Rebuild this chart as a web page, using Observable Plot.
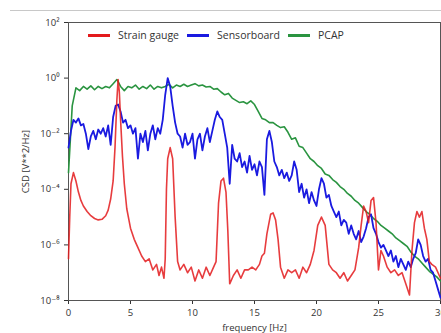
<!DOCTYPE html>
<html>
<head>
<meta charset="utf-8">
<script src="https://cdn.jsdelivr.net/npm/d3@7"></script>
<script src="https://cdn.jsdelivr.net/npm/@observablehq/plot@0.6"></script>
<style>
  html, body { margin: 0; padding: 0; background: white; }
  #wrap { position: relative; width: 441px; height: 333px; overflow: hidden; font-family: "Open Sans", "DejaVu Sans", sans-serif; }
  #topline { position: absolute; left: 10px; right: 0; top: 10px; height: 0; border-top: 1px solid #c8c8c8; }
  #legend { position: absolute; top: 28px; left: 88px; font-size: 10.5px; color: #333; display: flex; align-items: center; white-space: nowrap; }
  #legend .sw { display: inline-block; width: 22px; height: 3px; margin-right: 8px; }
  #legend .it { display: flex; align-items: center; margin-right: 8px; }
</style>
</head>
<body>
<div id="wrap"><div id="topline"></div><div id="legend"></div></div>
<script>
// Series names and colours
const seriesNames = ["Strain gauge", "Sensorboard", "PCAP"];
const seriesColors = ["#e31a1c", "#1a1ae0", "#2a9440"];

// Axis ticks
const xTicks = [0, 5, 10, 15, 20, 25, 30];
const yTicks = [1e-8, 1e-6, 1e-4, 1e-2, 1e0, 1e2];

// PCAP: frequency [Hz] and log10(CSD)
const pcapF = [0,0.3,0.6,0.9,1.2,1.5,1.8,2.1,2.4,2.7,3.0,3.3,3.6,3.9,4.2,4.5,4.8,5.1,5.4,5.7,6.0,6.3,6.6,6.9,7.2,7.5,7.8,8.1,8.4,8.7,9.0,9.3,9.6,9.9,10.2,10.5,10.8,11.1,11.4,11.7,12.0,12.3,12.6,12.9,13.2,13.5,13.8,14.1,14.4,14.7,15.0,15.3,15.6,15.9,16.2,16.5,16.8,17.1,17.4,17.7,18.0,18.3,18.6,18.9,19.2,19.5,19.8,20.1,20.4,20.7,21.0,21.3,21.6,21.9,22.2,22.5,22.8,23.1,23.4,23.7,24.0,24.3,24.6,24.9,25.2,25.5,25.8,26.1,26.4,26.7,27.0,27.3,27.6,27.9,28.2,28.5,28.8,29.1,29.4,29.7,30.0];
const pcapLog = [-3.4,-1.0,-0.35,-0.45,-0.3,-0.4,-0.28,-0.42,-0.3,-0.38,-0.3,-0.35,-0.2,-0.05,-0.3,-0.45,-0.3,-0.35,-0.25,-0.4,-0.3,-0.38,-0.25,-0.4,-0.3,-0.35,-0.3,-0.22,-0.35,-0.25,-0.3,-0.22,-0.3,-0.25,-0.2,-0.28,-0.25,-0.32,-0.3,-0.4,-0.38,-0.5,-0.6,-0.55,-0.72,-0.8,-0.88,-0.85,-0.92,-0.82,-0.95,-1.2,-1.45,-1.5,-1.6,-1.6,-1.7,-1.78,-1.75,-1.95,-2.2,-2.15,-2.45,-2.5,-2.7,-2.9,-3.0,-3.15,-3.25,-3.45,-3.5,-3.65,-3.75,-3.9,-4.0,-4.15,-4.25,-4.4,-4.5,-4.65,-4.8,-4.9,-5.05,-5.15,-5.3,-5.4,-5.5,-5.6,-5.75,-5.85,-5.95,-6.05,-6.25,-6.4,-6.5,-6.65,-6.8,-6.95,-7.05,-7.15,-7.3];

// Sensorboard: frequency [Hz] and log10(CSD)
const sensF = [0,0.2,0.4,0.6,0.8,1.0,1.2,1.4,1.6,1.8,2.0,2.2,2.4,2.6,2.8,3.0,3.2,3.4,3.6,3.8,4.0,4.2,4.4,4.6,4.8,5.0,5.2,5.4,5.6,5.8,6.0,6.2,6.4,6.6,6.8,7.0,7.2,7.4,7.6,7.8,8.0,8.2,8.4,8.6,8.8,9.0,9.2,9.4,9.6,9.8,10.0,10.2,10.4,10.6,10.8,11.0,11.2,11.4,11.6,11.8,12.0,12.2,12.4,12.6,12.8,13.0,13.2,13.4,13.6,13.8,14.0,14.2,14.4,14.6,14.8,15.0,15.2,15.4,15.6,15.8,16.0,16.2,16.4,16.6,16.8,17.0,17.2,17.4,17.6,17.8,18.0,18.2,18.4,18.6,18.8,19.0,19.2,19.4,19.6,19.8,20.0,20.2,20.4,20.6,20.8,21.0,21.2,21.4,21.6,21.8,22.0,22.2,22.4,22.6,22.8,23.0,23.2,23.4,23.6,23.8,24.0,24.2,24.4,24.6,24.8,25.0,25.2,25.4,25.6,25.8,26.0,26.2,26.4,26.6,26.8,27.0,27.2,27.4,27.6,27.8,28.0,28.2,28.4,28.6,28.8,29.0,29.2,29.4,29.6,29.8,30.0];
const sensLog = [-2.5,-1.9,-1.5,-1.6,-1.45,-1.7,-1.65,-2.0,-2.55,-2.1,-1.9,-2.2,-1.85,-2.0,-1.8,-2.1,-1.7,-2.4,-1.4,-1.0,-0.95,-1.2,-1.6,-1.5,-1.8,-1.7,-2.0,-1.8,-2.9,-2.0,-2.3,-1.9,-2.6,-2.0,-1.7,-2.2,-1.8,-2.0,-1.5,-0.6,0.0,-0.3,-1.0,-1.6,-2.0,-2.1,-2.5,-2.0,-2.4,-2.3,-2.0,-2.9,-2.2,-2.0,-2.6,-2.1,-1.8,-2.3,-1.9,-1.5,-1.2,-1.4,-1.5,-2.0,-2.5,-3.8,-2.4,-2.9,-3.0,-2.7,-3.2,-3.0,-3.4,-2.8,-3.3,-3.1,-3.5,-3.0,-3.2,-4.2,-2.2,-1.9,-2.3,-3.0,-3.2,-3.5,-3.3,-3.6,-3.4,-3.7,-3.5,-3.0,-3.3,-4.1,-3.8,-4.3,-4.0,-4.5,-4.1,-4.4,-4.6,-4.0,-3.6,-3.8,-4.3,-4.2,-4.6,-4.8,-5.0,-4.8,-5.3,-5.1,-5.2,-5.6,-5.3,-5.6,-5.8,-5.5,-5.9,-5.7,-5.4,-5.0,-4.9,-5.4,-5.6,-5.9,-6.1,-6.0,-6.2,-6.4,-6.2,-6.6,-6.4,-6.8,-6.5,-6.7,-6.9,-6.6,-6.8,-6.5,-6.3,-5.8,-6.0,-6.4,-6.6,-6.5,-6.9,-7.0,-7.3,-7.6,-7.9];

// Strain gauge: frequency [Hz] and log10(CSD)
const strainF = [0,0.1,0.2,0.4,0.6,0.8,1.0,1.2,1.5,1.8,2.1,2.4,2.7,3.0,3.2,3.4,3.6,3.75,3.9,4.0,4.1,4.2,4.35,4.5,4.7,5.0,5.3,5.6,5.9,6.2,6.5,6.8,7.1,7.3,7.5,7.7,7.8,7.9,8.0,8.2,8.4,8.6,8.8,9.0,9.3,9.6,9.9,10.2,10.5,10.8,11.1,11.4,11.7,11.9,12.1,12.3,12.5,12.7,12.85,13.0,13.3,13.6,13.9,14.2,14.5,14.8,15.1,15.4,15.6,15.8,16.0,16.3,16.5,16.7,16.9,17.1,17.4,17.7,18.0,18.3,18.6,18.9,19.2,19.5,19.8,20.1,20.4,20.7,21.0,21.3,21.6,21.9,22.2,22.5,22.8,23.1,23.4,23.6,23.8,24.0,24.2,24.4,24.6,24.8,25.0,25.2,25.4,25.7,26.0,26.3,26.6,26.9,27.2,27.5,27.7,27.9,28.1,28.3,28.5,28.7,28.9,29.1,29.3,29.6,30.0];
const strainLog = [-6.5,-5.0,-3.8,-3.4,-3.7,-4.1,-4.4,-4.6,-4.8,-4.95,-5.05,-5.1,-5.08,-4.95,-4.75,-4.35,-3.7,-2.5,-0.8,-0.05,-0.5,-1.5,-2.8,-3.8,-4.7,-5.4,-5.8,-6.1,-6.4,-6.6,-6.5,-6.9,-6.7,-7.1,-6.8,-7.2,-6.5,-4.0,-2.9,-2.5,-2.9,-5.0,-6.6,-6.9,-6.7,-7.0,-6.8,-7.3,-6.9,-7.2,-6.8,-7.1,-6.8,-6.6,-4.5,-3.7,-3.6,-4.1,-5.5,-7.4,-7.1,-6.9,-7.2,-6.9,-6.9,-6.8,-6.9,-6.7,-6.4,-6.3,-5.6,-4.9,-4.85,-5.1,-5.8,-6.8,-7.2,-6.9,-7.0,-6.9,-7.2,-6.8,-7.0,-6.7,-6.2,-5.3,-5.0,-5.3,-6.7,-6.9,-7.0,-7.2,-7.0,-7.3,-7.1,-6.9,-6.1,-5.3,-4.6,-4.8,-5.2,-4.4,-4.3,-5.2,-6.9,-6.2,-6.4,-6.8,-7.0,-6.9,-7.1,-7.0,-7.4,-7.8,-6.2,-5.2,-4.8,-5.0,-4.8,-5.4,-5.8,-6.6,-6.7,-6.8,-7.2];

const toRows = (fs, logs, name) => fs.map((f, i) => ({f, csd: Math.pow(10, logs[i]), name}));
const pcap = toRows(pcapF, pcapLog, seriesNames[2]);
const sens = toRows(sensF, sensLog, seriesNames[1]);
const strain = toRows(strainF, strainLog, seriesNames[0]);

const sup = {"-": "\u207B", "0": "\u2070", "1": "\u00B9", "2": "\u00B2", "3": "\u00B3", "4": "\u2074", "5": "\u2075", "6": "\u2076", "7": "\u2077", "8": "\u2078", "9": "\u2079"};
const fmtPow = d => "10" + String(Math.round(Math.log10(d))).split("").map(c => sup[c]).join("");

const chart = Plot.plot({
  width: 441,
  height: 333,
  marginLeft: 68,
  marginRight: 1,
  marginTop: 22,
  marginBottom: 33,
  style: {fontFamily: "'Open Sans', 'DejaVu Sans', sans-serif", fontSize: "9.5px", color: "#333", background: "white", overflow: "visible"},
  x: {domain: [0, 30], ticks: xTicks, tickFormat: d => String(d), label: "frequency [Hz]", labelAnchor: "center", labelOffset: 30, labelArrow: "none", tickSize: 4},
  y: {type: "log", domain: [1e-8, 1e2], ticks: yTicks, tickFormat: fmtPow, label: "CSD [V**2/Hz]", labelAnchor: "center", labelOffset: 46, labelArrow: "none", tickSize: 4},
  marks: [
    Plot.frame({stroke: "#555", strokeWidth: 1}),
    Plot.line(pcap, {x: "f", y: "csd", stroke: seriesColors[2], strokeWidth: 1.6}),
    Plot.line(sens, {x: "f", y: "csd", stroke: seriesColors[1], strokeWidth: 1.8}),
    Plot.line(strain, {x: "f", y: "csd", stroke: seriesColors[0], strokeWidth: 1.6, strokeOpacity: 0.85})
  ]
});
document.getElementById("wrap").prepend(chart);

const legend = document.getElementById("legend");
seriesNames.forEach((n, i) => {
  const it = document.createElement("span");
  it.className = "it";
  it.innerHTML = `<span class="sw" style="background:${seriesColors[i]}"></span><span>${n}</span>`;
  legend.appendChild(it);
});
</script>
</body>
</html>
